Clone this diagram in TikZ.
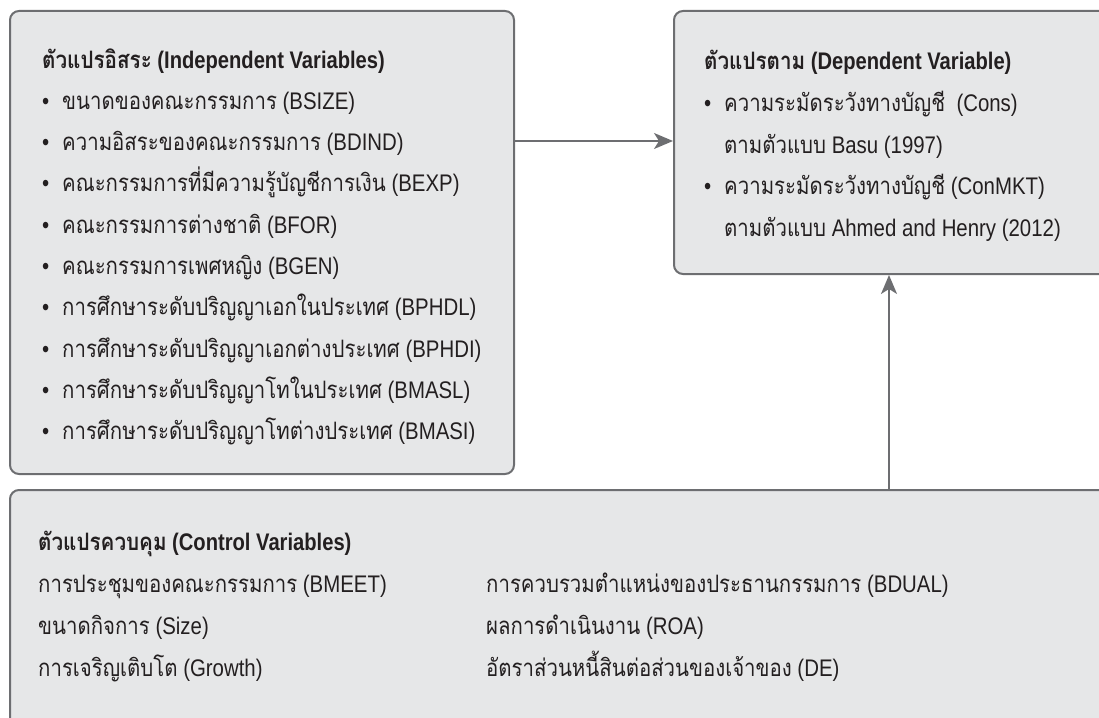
\documentclass[tikz,border=0pt]{standalone}
\usepackage{fontspec}
\setmainfont{Liberation Sans}[FakeStretch=0.85, BoldFeatures={FakeStretch=0.84}]
\newfontfamily\thaifont{Loma}[Script=Thai, FakeStretch=0.85, BoldFeatures={FakeStretch=0.86}]
\newcommand\tha[1]{{\thaifont #1}}
\newcommand\bul{\makebox[20pt][l]{\textbullet}}
\usetikzlibrary{arrows.meta}
\definecolor{boxfill}{HTML}{E6E7E8}
\definecolor{boxline}{HTML}{6D6E71}
\definecolor{txt}{HTML}{231F20}
\begin{document}
\begin{tikzpicture}[x=1pt,y=-1pt,
  panel/.style={draw=boxline, fill=boxfill, line width=2pt, rounded corners=9pt, inner sep=0pt, anchor=north west},
  txtline/.style={anchor=base west, inner sep=0pt, text=txt, font=\fontsize{24}{29}\selectfont},
  headline/.style={txtline, font=\fontsize{24}{29}\selectfont\bfseries},
  link/.style={draw=boxline, line width=1.8pt, -{Stealth[length=19pt,width=16pt,inset=5pt]}}]
\useasboundingbox (0,0) rectangle (1099,717);
\clip (0,0) rectangle (1099,717);
% panels
\node[panel, minimum width=504pt, minimum height=463pt] (indep) at (9,10) {};
\node[panel, minimum width=440pt, minimum height=263pt] (dep) at (673,10) {};
\node[panel, minimum width=1110pt, minimum height=260pt] (ctrl) at (9,489) {};
% independent variables
\node[headline] (i0) at (42,68) {\tha{ตัวแปรอิสระ} (Independent Variables)};
\node[txtline] (i1) at (42,109.3) {\bul\tha{ขนาดของคณะกรรมการ} (BSIZE)};
\node[txtline] (i2) at (42,150.6) {\bul\tha{ความอิสระของคณะกรรมการ} (BDIND)};
\node[txtline] (i3) at (42,191.9) {\bul\tha{คณะกรรมการที่มีความรู้บัญชีการเงิน} (BEXP)};
\node[txtline] (i4) at (42,233.2) {\bul\tha{คณะกรรมการต่างชาติ} (BFOR)};
\node[txtline] (i5) at (42,274.5) {\bul\tha{คณะกรรมการเพศหญิง} (BGEN)};
\node[txtline] (i6) at (42,315.8) {\bul\tha{การศึกษาระดับปริญญาเอกในประเทศ} (BPHDL)};
\node[txtline] (i7) at (42,357.1) {\bul\tha{การศึกษาระดับปริญญาเอกต่างประเทศ} (BPHDI)};
\node[txtline] (i8) at (42,398.4) {\bul\tha{การศึกษาระดับปริญญาโทในประเทศ} (BMASL)};
\node[txtline] (i9) at (42,439.7) {\bul\tha{การศึกษาระดับปริญญาโทต่างประเทศ} (BMASI)};
% dependent variable
\node[headline] (d0) at (704,70) {\tha{ตัวแปรตาม} (Dependent Variable)};
\node[txtline] (d1) at (704,111.5) {\bul\tha{ความระมัดระวังทางบัญชี}\ \ (Cons)};
\node[txtline] (d2) at (724,153) {\tha{ตามตัวแบบ} Basu (1997)};
\node[txtline] (d3) at (704,194.5) {\bul\tha{ความระมัดระวังทางบัญชี} (ConMKT)};
\node[txtline] (d4) at (724,236) {\tha{ตามตัวแบบ} Ahmed and Henry (2012)};
% control variables
\node[headline] (c0) at (38,550) {\tha{ตัวแปรควบคุม} (Control Variables)};
\node[txtline] (cl1) at (38,592) {\tha{การประชุมของคณะกรรมการ} (BMEET)};
\node[txtline] (cl2) at (38,634) {\tha{ขนาดกิจการ} (Size)};
\node[txtline] (cl3) at (38,676) {\tha{การเจริญเติบโต} (Growth)};
\node[txtline] (cr1) at (486,592) {\tha{การควบรวมตำแหน่งของประธานกรรมการ} (BDUAL)};
\node[txtline] (cr2) at (486,634) {\tha{ผลการดำเนินงาน} (ROA)};
\node[txtline] (cr3) at (486,676) {\tha{อัตราส่วนหนี้สินต่อส่วนของเจ้าของ} (DE)};
% connectors
\coordinate (harrow) at (600,141);
\coordinate (varrow) at (889,380);
\draw[link] (indep.east |- harrow) -- (dep.west |- harrow);
\draw[link] (ctrl.north -| varrow) -- (dep.south -| varrow);
\end{tikzpicture}
\end{document}
